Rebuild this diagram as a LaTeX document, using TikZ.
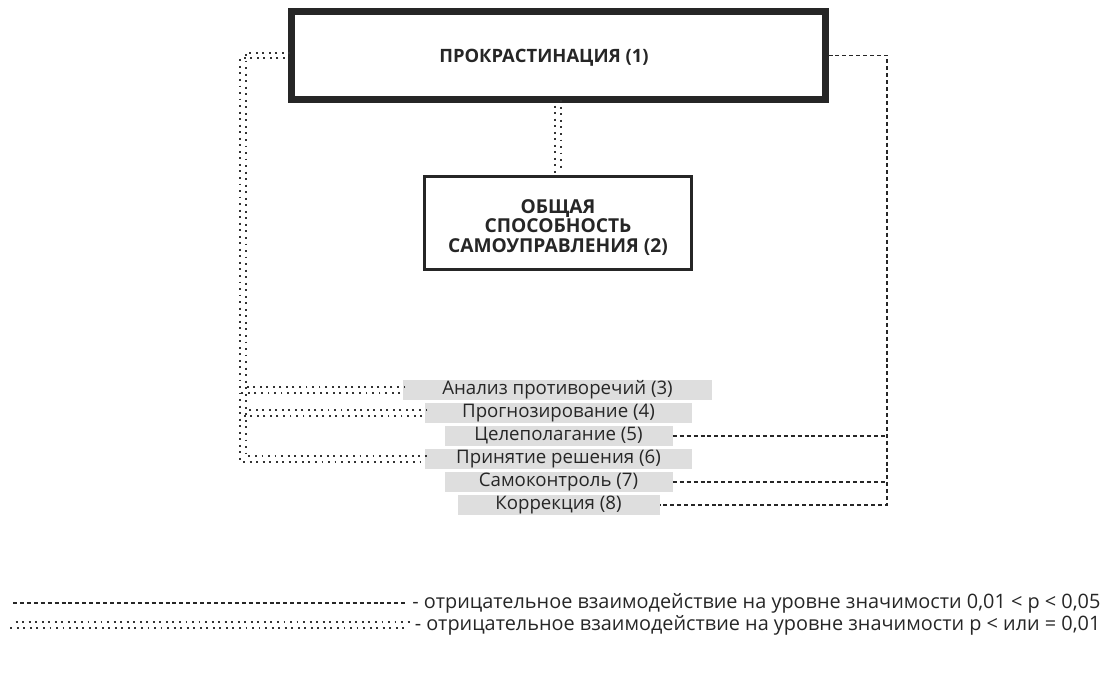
\documentclass[tikz,border=0pt]{standalone}
\usepackage{fontspec}
\setmainfont{Open Sans}
\usetikzlibrary{positioning}
\tikzstyle{item} = [rectangle,fill=black!13,text=black!85,inner sep=0pt,minimum height=15pt,text centered]
\tikzstyle{dots} = [draw=black!80,line width=1.4pt,dash pattern=on 1.4pt off 3.5pt]
\tikzstyle{strong} = [draw=none,preaction={dots,transform canvas={shift={(2pt,2pt)}}},postaction={dots,transform canvas={shift={(-2pt,-2pt)}}}]
\tikzstyle{weak} = [draw=black!85,line width=1.1pt,dash pattern=on 3pt off 2.2pt]

\begin{document}
\begin{tikzpicture}[x=0.75pt,y=-0.75pt,node distance=17.25pt,font=\fontsize{14}{16}\selectfont]
	\useasboundingbox (0,0) rectangle (1114,674);

	\node[draw=black!85,line width=5.25pt,minimum width=400.5pt,minimum height=66pt,font=\fontsize{13.8}{16}\selectfont\bfseries,text=black!85,text depth=-1pt](proc) at (558,55.5) {ПРОКРАСТИНАЦИЯ (1)\hspace*{21pt}};
	\node[draw=black!85,line width=2.25pt,minimum width=200pt,minimum height=70pt,align=center,font=\fontsize{14.4}{14.7}\selectfont\bfseries,text=black!85](ability) at (558,223) {\rule{0pt}{17pt}ОБЩАЯ\\СПОСОБНОСТЬ\\САМОУПРАВЛЕНИЯ (2)};

	\node[item,minimum width=231.75pt](analysis) at (557.5,390) {Анализ противоречий (3)};
	\node[item,minimum width=200.25pt,below of=analysis,xshift=0.75pt](forecast) {Прогнозирование (4)};
	\node[item,minimum width=171pt,below of=forecast](goal) {Целеполагание (5)};
	\node[item,minimum width=200.25pt,below of=goal](decision) {Принятие решения (6)};
	\node[item,minimum width=171pt,below of=decision](control) {Самоконтроль (7)};
	\node[item,minimum width=151.5pt,below of=control](correct) {Коррекция (8)};

	\coordinate (lbus) at (243,459);
	\coordinate (rbus) at (887,505);

	\draw[strong] (proc.south) -- (ability.north);
	\draw[strong] (proc.west) -| (lbus) -- (decision.west);
	\draw[strong] (analysis.west) -- (analysis.west -| lbus);
	\draw[strong] (forecast.west) -- (forecast.west -| lbus);

	\draw[weak] (proc.east) -| (rbus) -- (correct.east);
	\draw[weak] (goal.east) -- (goal.east -| rbus);
	\draw[weak] (control.east) -- (control.east -| rbus);

	% legend
	\node[anchor=east,text=black!85,font=\fontsize{14.9}{17}\selectfont](weakkey) at (1105,603) {- отрицательное взаимодействие на уровне значимости 0,01 < p < 0,05};
	\node[anchor=east,text=black!85,font=\fontsize{14.9}{17}\selectfont](strongkey) at (1105,625) {- отрицательное взаимодействие на уровне значимости p < или = 0,01};
	\coordinate (wa) at (13,603);
	\coordinate (sa) at (13,625);
	\draw[weak] (wa) -- (wa -| 408,0);
	\draw[strong] (sa) -- (sa -| 408,0);

\end{tikzpicture}
\end{document}
